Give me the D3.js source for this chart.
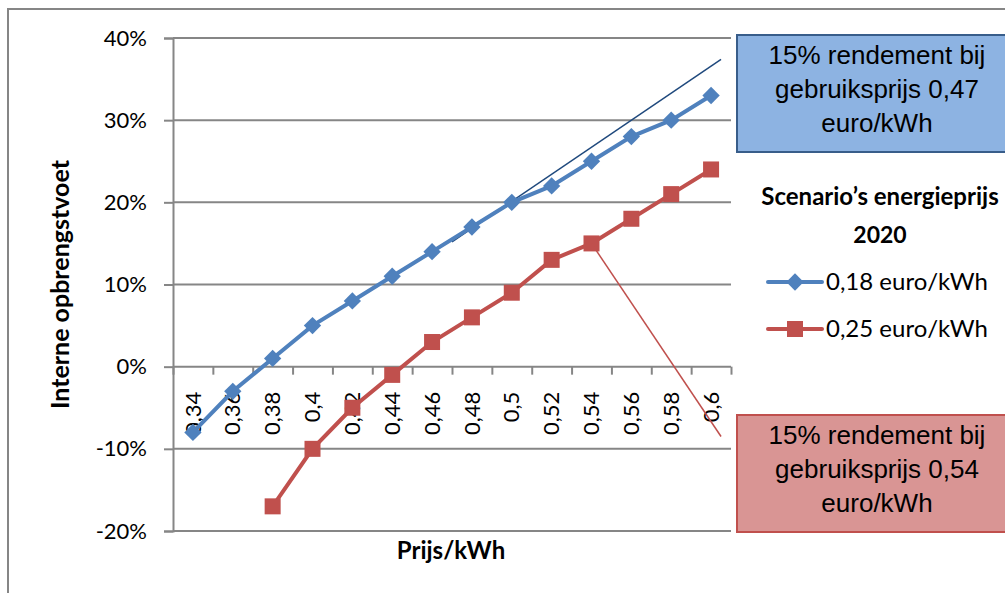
<!DOCTYPE html>
<html>
<head>
<meta charset="utf-8">
<script src="https://cdn.jsdelivr.net/npm/d3@7"></script>
<style>
  body { margin: 0; background: #fff; }
  svg { display: block; }
  text { fill: #000; }
</style>
</head>
<body>
<div id="chart"></div>
<script>
// data
var prices = [0.34, 0.36, 0.38, 0.40, 0.42, 0.44, 0.46, 0.48, 0.50, 0.52, 0.54, 0.56, 0.58, 0.60];
var priceLabels = ["0,34", "0,36", "0,38", "0,4", "0,42", "0,44", "0,46", "0,48", "0,5", "0,52", "0,54", "0,56", "0,58", "0,6"];
var irr018 = [-0.08, -0.03, 0.01, 0.05, 0.08, 0.11, 0.14, 0.17, 0.20, 0.22, 0.25, 0.28, 0.30, 0.33];
var irr025 = [null, null, -0.17, -0.10, -0.05, -0.01, 0.03, 0.06, 0.09, 0.13, 0.15, 0.18, 0.21, 0.24];
var yTicks = [-0.2, -0.1, 0, 0.1, 0.2, 0.3, 0.4];
var yTickLabels = ["-20%", "-10%", "0%", "10%", "20%", "30%", "40%"];
var seriesNames = ["0,18 euro/kWh", "0,25 euro/kWh"];
// annotation lines: [price, irr]
var trend018 = [[0.47, 0.152], [0.605, 0.374]];
var callout025 = [[0.54, 0.15], [0.605, -0.085]];
var blueNote = ["15% rendement bij", "gebruiksprijs 0,47", "euro/kWh"];
var redNote = ["15% rendement bij", "gebruiksprijs 0,54", "euro/kWh"];

var W = 1005, H = 593;
var margin = {top: 38, left: 173, right: 274, bottom: 62};
var width = W - margin.left - margin.right,
    height = H - margin.top - margin.bottom;

var blue = "#4F81BD", red = "#C0504D", grid = "#868686";
var sans = "Lato, 'Open Sans', sans-serif";
var arial = "'Liberation Sans', Arial, sans-serif";

var svg = d3.select("#chart").append("svg")
    .attr("width", W)
    .attr("height", H)
    .style("font-family", sans);

// chart border
svg.append("rect")
    .attr("x", 8).attr("y", 9)
    .attr("width", 1100).attr("height", 700)
    .attr("fill", "none")
    .attr("stroke", grid)
    .attr("stroke-width", 2);

var g = svg.append("g")
    .attr("transform", "translate(" + margin.left + "," + margin.top + ")");

var x = d3.scaleLinear()
    .domain([0.33, 0.61])
    .range([0, width]);

var y = d3.scaleLinear()
    .domain([-0.2, 0.4])
    .range([height, 0]);

// gridlines + y axis
var yAxis = g.append("g")
    .call(d3.axisLeft(y).tickValues(yTicks).tickSize(9)
      .tickFormat(function(d, i) { return yTickLabels[i]; }));
yAxis.select(".domain").attr("stroke", grid).attr("stroke-width", 2);
yAxis.selectAll(".tick line").attr("stroke", grid).attr("stroke-width", 2);
yAxis.selectAll(".tick text")
    .attr("x", -26)
    .style("font-size", "22px")
    .style("font-family", sans);

g.selectAll(".gridline")
  .data(yTicks)
  .enter()
  .append("line")
    .attr("class", "gridline")
    .attr("x1", 0)
    .attr("x2", width)
    .attr("y1", function(d) { return y(d); })
    .attr("y2", function(d) { return y(d); })
    .attr("stroke", grid)
    .attr("stroke-width", 2);

// x axis on the 0% line, ticks between categories
var bounds = d3.range(prices.length + 1).map(function(i) { return 0.33 + i * 0.02; });
var xAxis = g.append("g")
    .attr("transform", "translate(0," + y(0) + ")")
    .call(d3.axisBottom(x).tickValues(bounds).tickSize(8).tickFormat(""));
xAxis.select(".domain").remove();
xAxis.selectAll(".tick line").attr("stroke", grid).attr("stroke-width", 2);

g.selectAll(".xlabel")
  .data(prices)
  .enter()
  .append("text")
    .attr("class", "xlabel")
    .attr("transform", function(d) { return "translate(" + x(d) + "," + (y(0) + 25) + ") rotate(-90)"; })
    .attr("text-anchor", "end")
    .attr("dy", "0.35em")
    .style("font-size", "22px")
    .text(function(d, i) { return priceLabels[i]; });

// annotation lines
var line = d3.line()
    .x(function(d) { return x(d[0]); })
    .y(function(d) { return y(d[1]); });

g.append("path")
    .datum(trend018)
    .attr("d", line)
    .attr("fill", "none")
    .attr("stroke", "#1F497D")
    .attr("stroke-width", 1.5);

// series
var data018 = prices.map(function(p, i) { return [p, irr018[i]]; });
var data025 = prices.map(function(p, i) { return [p, irr025[i]]; }).filter(function(d) { return d[1] !== null; });

g.append("path")
    .datum(data025)
    .attr("d", line)
    .attr("fill", "none")
    .attr("stroke", red)
    .attr("stroke-width", 4);

g.append("path")
    .datum(data018)
    .attr("d", line)
    .attr("fill", "none")
    .attr("stroke", blue)
    .attr("stroke-width", 4);

g.selectAll(".sq")
  .data(data025)
  .enter()
  .append("rect")
    .attr("class", "sq")
    .attr("x", function(d) { return x(d[0]) - 8; })
    .attr("y", function(d) { return y(d[1]) - 8; })
    .attr("width", 16)
    .attr("height", 16)
    .attr("fill", red);

var diamond = d3.symbol().type(d3.symbolSquare).size(150);
g.selectAll(".dm")
  .data(data018)
  .enter()
  .append("path")
    .attr("class", "dm")
    .attr("d", diamond)
    .attr("transform", function(d) { return "translate(" + x(d[0]) + "," + y(d[1]) + ") rotate(45)"; })
    .attr("fill", blue);

g.append("path")
    .datum(callout025)
    .attr("d", line)
    .attr("fill", "none")
    .attr("stroke", red)
    .attr("stroke-width", 1.5);

// axis titles
svg.append("text")
    .attr("transform", "translate(60," + (margin.top + y(0.1) ) + ") rotate(-90)")
    .attr("text-anchor", "middle")
    .attr("dy", "0.35em")
    .style("font-size", "25px")
    .style("font-weight", "bold")
    .text("Interne opbrengstvoet");

svg.append("text")
    .attr("x", 451)
    .attr("y", 551)
    .attr("text-anchor", "middle")
    .attr("dy", "0.35em")
    .style("font-size", "24px")
    .style("font-weight", "bold")
    .text("Prijs/kWh");

// callout boxes
function note(lines, top, fill, stroke) {
  var b = svg.append("g");
  b.append("rect")
    .attr("x", 737).attr("y", top)
    .attr("width", 290).attr("height", 117)
    .attr("fill", fill)
    .attr("stroke", stroke)
    .attr("stroke-width", 2);
  b.selectAll("text")
    .data(lines)
    .enter()
    .append("text")
      .attr("x", 877)
      .attr("y", function(d, i) { return top + 20 + i * 34; })
      .attr("dy", "0.35em")
      .attr("text-anchor", "middle")
      .style("font-family", arial)
      .style("font-size", "26px")
      .text(function(d) { return d; });
}
note(blueNote, 35, "#8DB3E2", "#385D8A");
note(redNote, 415, "#D99594", "#C0504D");

// legend
var lg = svg.append("g");
lg.append("text")
    .attr("x", 880).attr("y", 197)
    .attr("dy", "0.35em")
    .attr("text-anchor", "middle")
    .style("font-size", "24px")
    .style("font-weight", "bold")
    .text("Scenario\u2019s energieprijs");
lg.append("text")
    .attr("x", 880).attr("y", 235)
    .attr("dy", "0.35em")
    .attr("text-anchor", "middle")
    .style("font-size", "23px")
    .style("font-weight", "bold")
    .text("2020");

var legendColors = [blue, red];
var items = lg.selectAll(".item")
  .data(seriesNames)
  .enter()
  .append("g")
    .attr("class", "item")
    .attr("transform", function(d, i) { return "translate(0," + (282 + i * 47) + ")"; });
items.append("line")
    .attr("x1", 768).attr("x2", 822)
    .attr("stroke", function(d, i) { return legendColors[i]; })
    .attr("stroke-width", 4)
    .attr("stroke-linecap", "round");
items.append("path")
    .attr("d", function(d, i) { return i === 0 ? diamond() : d3.symbol().type(d3.symbolSquare).size(256)(); })
    .attr("transform", function(d, i) { return "translate(795,0)" + (i === 0 ? " rotate(45)" : ""); })
    .attr("fill", function(d, i) { return legendColors[i]; });
items.append("text")
    .attr("x", 826)
    .attr("dy", "0.35em")
    .style("font-size", "24px")
    .text(function(d) { return d; });
</script>
</body>
</html>
